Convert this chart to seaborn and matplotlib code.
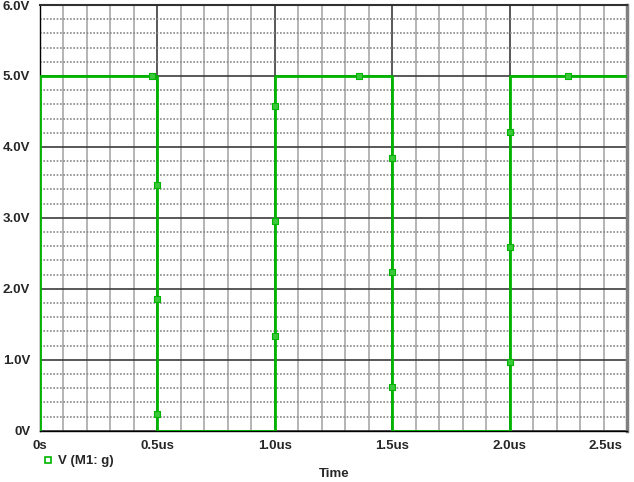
import numpy as np
import pandas as pd
import matplotlib
matplotlib.use("Agg")
import matplotlib.pyplot as plt
import matplotlib.transforms as mtransforms
import seaborn as sns
from matplotlib.lines import Line2D

# waveform V(M1:g), time in us
time_us = [0, 0, 0.5, 0.5, 1.0, 1.0, 1.5, 1.5, 2.0, 2.0, 2.5]
volts = [0, 5, 5, 0, 0, 5, 5, 0, 0, 5, 5]

# trace markers
marker_time = [0.477, 0.5, 0.5, 0.5, 1.0, 1.0, 1.0, 1.359, 1.5, 1.5, 1.5, 2.0, 2.0, 2.0, 2.249]
marker_volts = [5.0, 3.46, 1.85, 0.23, 4.58, 2.96, 1.34, 5.0, 3.85, 2.24, 0.61, 4.21, 2.59, 0.97, 5.0]

x_ticks = [0, 0.5, 1.0, 1.5, 2.0, 2.5]
x_labels = ["0s", "0.5us", "1.0us", "1.5us", "2.0us", "2.5us"]
y_ticks = [0, 1, 2, 3, 4, 5, 6]
y_labels = ["0V", "1.0V", "2.0V", "3.0V", "4.0V", "5.0V", "6.0V"]

sns.set_style("white")
plt.rcParams["font.family"] = ["Liberation Sans", "DejaVu Sans"]
plt.rcParams["font.weight"] = "bold"

green = "#00b400"

df = pd.DataFrame({"t": time_us, "v": volts})
dm = pd.DataFrame({"t": marker_time, "v": marker_volts})

fig = plt.figure(figsize=(6.34, 4.82), dpi=100)
ax = fig.add_axes([40 / 634, (482 - 430.7) / 482, (627 - 40) / 634, (430.7 - 5) / 482])

sns.lineplot(data=df, x="t", y="v", sort=False, estimator=None, color=green, linewidth=2, ax=ax, zorder=4)
sns.scatterplot(data=dm, x="t", y="v", marker="s", s=20, color="#3cc83c", edgecolor=green, linewidth=0.8, ax=ax, zorder=5)

ax.set_xlim(0, 2.5)
ax.set_ylim(0, 6)
ax.set_xticks(x_ticks)
ax.set_xticklabels(x_labels)
ax.set_yticks(y_ticks)
ax.set_yticklabels(y_labels)
ax.set_xticks(np.arange(0, 2.51, 0.1), minor=True)
ax.set_yticks(np.arange(0, 6.01, 0.2), minor=True)

ax.set_axisbelow(True)
ax.grid(which="minor", axis="x", color="#a8a8a8", linewidth=1.2)
ax.grid(which="minor", axis="y", color="#888888", linewidth=1.2, linestyle=(0, (1, 1)))
ax.grid(which="major", axis="both", color="#3c3c3c", linewidth=1.2, linestyle="-")

ax.tick_params(axis="both", which="major", direction="out", length=5, width=1, color="black",
               labelsize=9.5, pad=2)
ax.tick_params(axis="both", which="minor", length=0)
ax.set_xlabel("")
ax.set_ylabel("")

# last time label sits left of its tick so it stays inside the picture
last = ax.get_xticklabels()[-1]
last.set_horizontalalignment("right")
last.set_transform(last.get_transform() + mtransforms.ScaledTranslation(-5 / 100, 0, fig.dpi_scale_trans))

for side in ["left", "bottom"]:
    ax.spines[side].set_color("black")
    ax.spines[side].set_linewidth(1)
ax.spines["top"].set_color("#303030")
ax.spines["top"].set_linewidth(1.5)
ax.spines["right"].set_color("#808080")
ax.spines["right"].set_linewidth(2.5)

handle = Line2D([], [], linestyle="none", marker="s", markersize=4, markerfacecolor="white",
                markeredgecolor=green, markeredgewidth=1.2)
fig.legend([handle], ["V (M1: g)"], loc="center left", bbox_to_anchor=(36 / 634, 1 - 461 / 482),
           frameon=False, fontsize=9.5, handlelength=0.8, handletextpad=0.4, borderpad=0)

fig.text(334 / 634, 1 - 474 / 482, "Time", ha="center", va="center", fontsize=9.5)

fig.savefig("out.png", dpi=100)
